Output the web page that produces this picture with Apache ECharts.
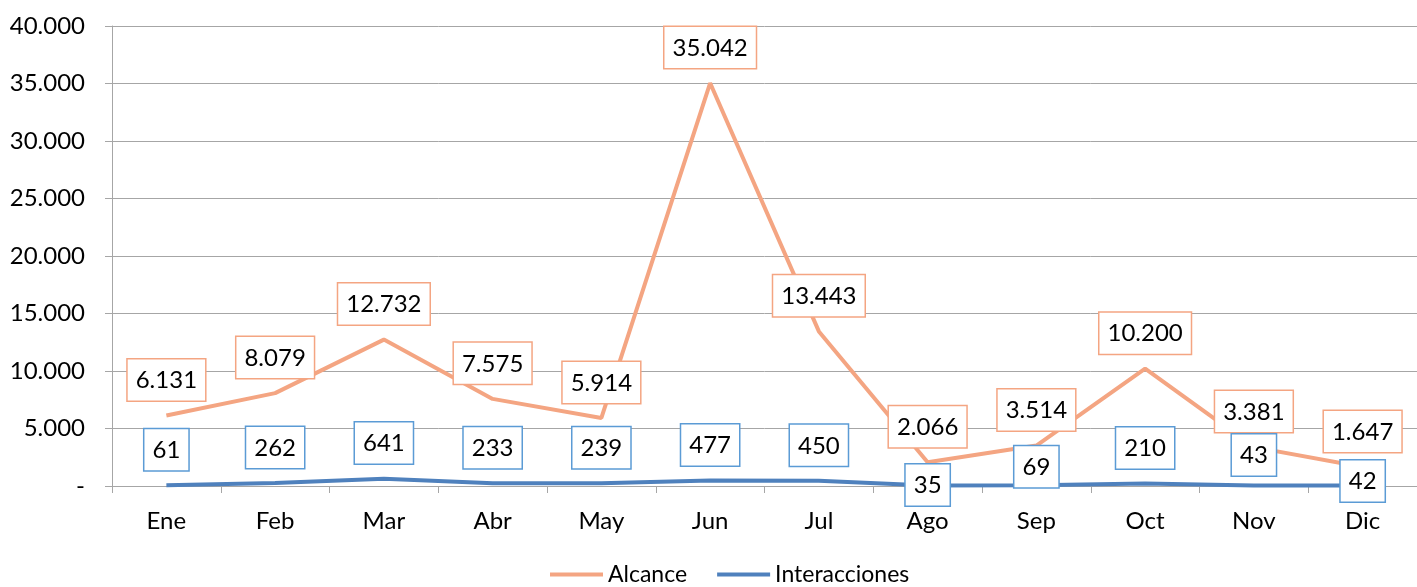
<!DOCTYPE html>
<html><head><meta charset="utf-8">
<script src="https://cdn.jsdelivr.net/npm/echarts@6/dist/echarts.min.js"></script>
<style>html,body{margin:0;padding:0;background:#fff}#c{width:1417px;height:587px}</style>
</head><body><div id="c"></div>
<script>
const months = ['Ene','Feb','Mar','Abr','May','Jun','Jul','Ago','Sep','Oct','Nov','Dic'];
const alcance = [6131, 8079, 12732, 7575, 5914, 35042, 13443, 2066, 3514, 10200, 3381, 1647];
const interacciones = [61, 262, 641, 233, 239, 477, 450, 35, 69, 210, 43, 42];

const FONT = 'Lato';
const fmt = v => v === 0 ? '-' : String(v).replace(/\B(?=(\d{3})+(?!\d))/g, '.');

// manual label nudges (vertical offset in px) for crowded Interacciones labels
const interNudge = {7: 35, 8: 17, 10: 5, 11: 31};

const labelBase = {
  show: true, position: 'top', distance: 15,
  backgroundColor: '#fff', borderWidth: 1.5,
  padding: [9, 8, 8, 8], color: '#000', fontSize: 24, fontFamily: FONT,
  formatter: p => fmt(p.value)
};

const chart = echarts.init(document.getElementById('c'), null, {renderer: 'canvas'});
chart.setOption({
  animation: false,
  backgroundColor: '#fff',
  grid: {left: 112, top: 26, width: 1311, bottom: 101, containLabel: false},
  legend: {
    bottom: -4, left: 545, icon: 'rect', itemWidth: 53, itemHeight: 4, itemGap: 30,
    textStyle: {fontSize: 23, fontFamily: FONT, color: '#000'},
    data: ['Alcance', 'Interacciones']
  },
  xAxis: {
    type: 'category', data: months, boundaryGap: true,
    axisLine: {lineStyle: {color: '#A6A6A6', width: 1}},
    axisTick: {show: true, length: 7, alignWithLabel: false, lineStyle: {color: '#A6A6A6'}},
    axisLabel: {fontSize: 24, fontFamily: FONT, color: '#000', margin: 23}
  },
  yAxis: {
    type: 'value', min: 0, max: 40000, interval: 5000,
    axisLine: {show: true, lineStyle: {color: '#A6A6A6', width: 1}},
    axisTick: {show: true, length: 7, lineStyle: {color: '#A6A6A6'}},
    splitLine: {lineStyle: {color: '#A6A6A6', width: 1}},
    axisLabel: {fontSize: 24, fontFamily: FONT, color: '#000', margin: 27, formatter: fmt}
  },
  series: [
    {
      name: 'Alcance', type: 'line', data: alcance,
      symbol: 'circle', symbolSize: 0.1, showSymbol: true,
      itemStyle: {color: '#F4A582'},
      lineStyle: {color: '#F4A582', width: 4},
      label: Object.assign({}, labelBase, {borderColor: '#F4A582'}),
      z: 2
    },
    {
      name: 'Interacciones', type: 'line',
      data: interacciones.map((v, i) => interNudge[i] !== undefined
        ? {value: v, label: {offset: [0, interNudge[i]]}} : v),
      symbol: 'circle', symbolSize: 0.1, showSymbol: true,
      itemStyle: {color: '#4F81BD'},
      lineStyle: {color: '#4F81BD', width: 4},
      label: Object.assign({}, labelBase, {borderColor: '#5B9BD5'}),
      z: 3
    }
  ]
});
</script></body></html>
